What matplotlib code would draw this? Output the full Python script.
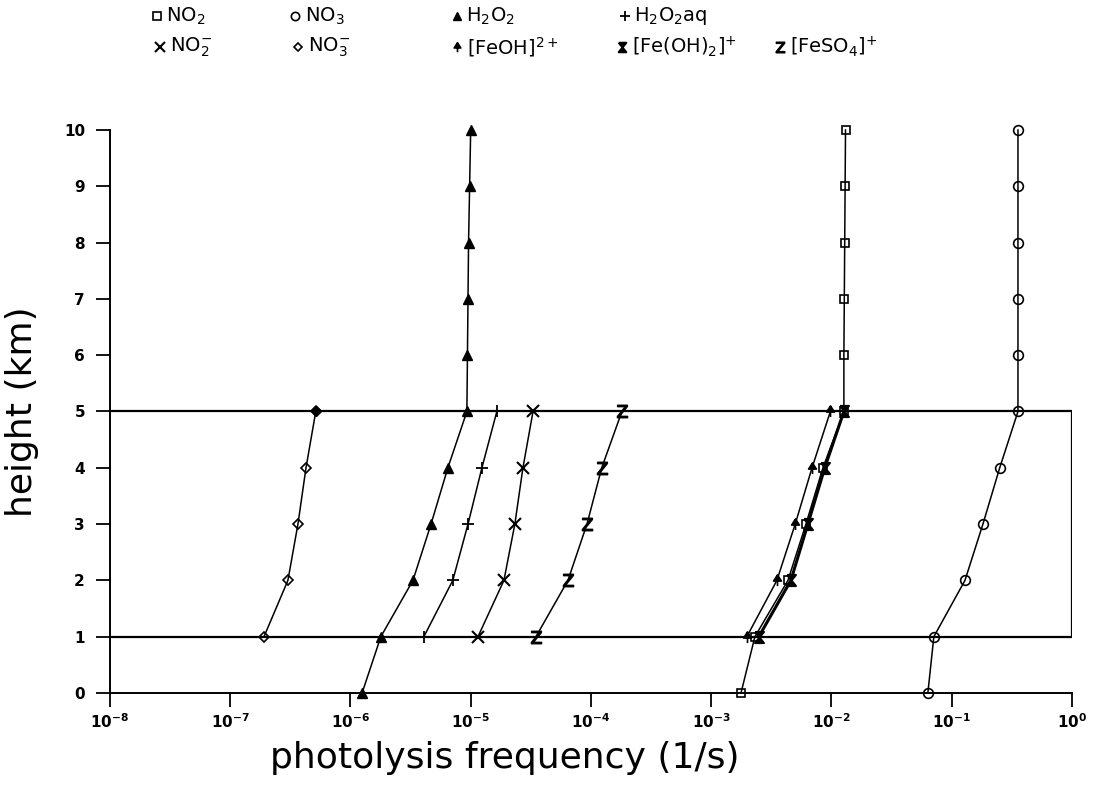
import matplotlib
matplotlib.use("Agg")
import matplotlib.pyplot as plt
from matplotlib.lines import Line2D
from matplotlib.path import Path

# heights (km)
heights_all = [0, 1, 2, 3, 4, 5, 6, 7, 8, 9, 10]
heights_cloud = [1, 2, 3, 4, 5]
cloud_base = 1
cloud_top = 5

# gas phase photolysis frequencies (1/s), 0-10 km
j_no2 = [1.77e-3, 2.31e-3, 4.35e-3, 6.14e-3, 8.5e-3, 1.27e-2, 1.27e-2, 1.28e-2, 1.29e-2, 1.30e-2, 1.31e-2]
j_no3 = [0.0634, 0.0711, 0.129, 0.182, 0.251, 0.356, 0.356, 0.356, 0.356, 0.356, 0.356]
j_h2o2 = [1.25e-6, 1.79e-6, 3.31e-6, 4.68e-6, 6.46e-6, 9.3e-6, 9.4e-6, 9.5e-6, 9.6e-6, 9.8e-6, 1.0e-5]

# aqueous phase, inside the cloud (1-5 km)
j_h2o2aq = [4.08e-6, 7.1e-6, 9.5e-6, 1.24e-5, 1.65e-5]
j_no2m = [1.15e-5, 1.89e-5, 2.33e-5, 2.72e-5, 3.3e-5]
j_no3m = [1.91e-7, 3.02e-7, 3.66e-7, 4.27e-7, 5.15e-7]
j_feoh = [1.98e-3, 3.52e-3, 5.0e-3, 6.9e-3, 9.8e-3]
j_feoh2 = [2.49e-3, 4.6e-3, 6.37e-3, 8.8e-3, 1.27e-2]
j_feso4 = [3.49e-5, 6.44e-5, 9.27e-5, 1.23e-4, 1.81e-4]

# custom markers
arrow = Path([(0, 1), (-0.7, -0.1), (0.7, -0.1), (0, 1), (0, -1)],
             [Path.MOVETO, Path.LINETO, Path.LINETO, Path.CLOSEPOLY, Path.LINETO])
hourglass = Path([(-0.8, 1), (0.8, 1), (-0.8, -1), (0.8, -1), (-0.8, 1)],
                 [Path.MOVETO, Path.LINETO, Path.LINETO, Path.LINETO, Path.LINETO])
zmark = r'$\mathsf{Z}$'

styles = {
    'no2': dict(marker='s', ms=6, mfc='none', mew=1.2),
    'no3': dict(marker='o', ms=7, mfc='none', mew=1.2),
    'h2o2': dict(marker='^', ms=7, mfc='k'),
    'h2o2aq': dict(marker='+', ms=9, mew=1.3),
    'no2m': dict(marker='x', ms=8, mew=1.5),
    'no3m': dict(marker='D', ms=5, mfc='none', mew=1.2),
    'feoh': dict(marker=arrow, ms=8, mfc='k', mew=1.2),
    'feoh2': dict(marker=hourglass, ms=8, mfc='k', mew=1.5),
    'feso4': dict(marker=zmark, ms=9),
}

fig = plt.figure(figsize=(10.94, 7.85), dpi=100)
ax = fig.add_axes([0.1005, 0.1172, 0.8793, 0.7172])

lw = 1.1
ax.plot(j_no2, heights_all, color='k', lw=lw, clip_on=False, **styles['no2'])
ax.plot(j_no3, heights_all, color='k', lw=lw, clip_on=False, **styles['no3'])
ax.plot(j_h2o2, heights_all, color='k', lw=lw, clip_on=False, **styles['h2o2'])
ax.plot(j_h2o2aq, heights_cloud, color='k', lw=lw, **styles['h2o2aq'])
ax.plot(j_no2m, heights_cloud, color='k', lw=lw, **styles['no2m'])
ax.plot(j_no3m, heights_cloud, color='k', lw=lw, **styles['no3m'])
ax.plot(j_no3m[-1:], heights_cloud[-1:], 'D', color='k', ms=5)
ax.plot(j_feoh, heights_cloud, color='k', lw=lw, **styles['feoh'])
ax.plot(j_feoh2, heights_cloud, color='k', lw=2.2, **styles['feoh2'])
ax.plot(j_feso4, heights_cloud, color='k', lw=lw, **styles['feso4'])

# cloud layer box
ax.axhline(cloud_base, color='k', lw=1.6)
ax.axhline(cloud_top, color='k', lw=1.6)
ax.vlines(1e0, cloud_base, cloud_top, color='k', lw=1.6)

ax.set_xscale('log')
ax.set_xlim(1e-8, 1e0)
ax.set_ylim(0, 10)
ax.set_xticks([10.0 ** e for e in range(-8, 1)])
ax.minorticks_off()
ax.set_yticks(range(0, 11))
ax.spines['top'].set_visible(False)
ax.spines['right'].set_visible(False)
ax.spines['left'].set_linewidth(1.4)
ax.spines['bottom'].set_linewidth(1.4)
ax.tick_params(direction='out', length=10, width=1.3, labelsize=11)
ax.tick_params(axis='y', pad=8)
ax.tick_params(axis='x', pad=4)
for lab in ax.get_xticklabels() + ax.get_yticklabels():
    lab.set_fontweight('bold')

ax.set_xlabel('photolysis frequency (1/s)', fontsize=26)
ax.xaxis.set_label_coords(0.41, -0.085)
ax.set_ylabel('height (km)', fontsize=26)
ax.yaxis.set_label_coords(-0.074, 0.5)

# legend at top, two rows
legend_items = [
    ('no2', r'NO$_2$', 157, 166, 16),
    ('no3', r'NO$_3$', 295, 305, 16),
    ('h2o2', r'H$_2$O$_2$', 457, 466, 16),
    ('h2o2aq', r'H$_2$O$_2$aq', 625, 634, 16),
    ('no2m', r'NO$_2^{-}$', 160, 170, 47),
    ('no3m', r'NO$_3^{-}$', 298, 308, 47),
    ('feoh', r'[FeOH]$^{2+}$', 457, 467, 47),
    ('feoh2', r'[Fe(OH)$_2$]$^{+}$', 622, 632, 47),
    ('feso4', r'[FeSO$_4$]$^{+}$', 780, 790, 47),
]
W, H = 1094.0, 785.0
for key, text, mx, tx, py in legend_items:
    st = dict(styles[key])
    st['ms'] = st.get('ms', 7) * 0.85
    fig.add_artist(Line2D([mx / W], [1 - py / H], transform=fig.transFigure,
                          color='k', ls='none', **st))
    fig.text(tx / W, 1 - py / H, text, fontsize=14, va='center', ha='left')

fig.savefig('out.png', dpi=100)
